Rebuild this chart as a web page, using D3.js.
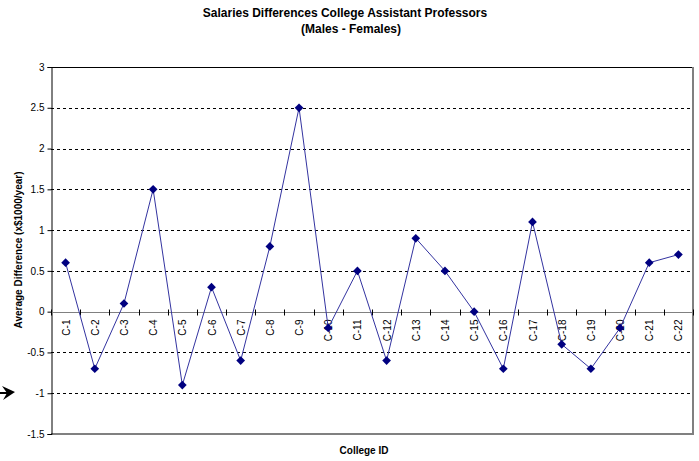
<!DOCTYPE html>
<html>
<head>
<meta charset="utf-8">
<script src="https://cdn.jsdelivr.net/npm/d3@7"></script>
<style>
  body { margin: 0; background: #fff; }
  text { font-family: Arial, "Liberation Sans", sans-serif; }
</style>
</head>
<body>
<div id="wrapper"></div>
<script>
// data
const colleges = ["C-1","C-2","C-3","C-4","C-5","C-6","C-7","C-8","C-9","C-10","C-11",
                  "C-12","C-13","C-14","C-15","C-16","C-17","C-18","C-19","C-20","C-21","C-22"]
const differences = [0.6, -0.7, 0.1, 1.5, -0.9, 0.3, -0.6, 0.8, 2.5, -0.2, 0.5,
                     -0.6, 0.9, 0.5, 0, -0.7, 1.1, -0.4, -0.7, -0.2, 0.6, 0.7]
const yTicks = [-1.5, -1, -0.5, 0, 0.5, 1, 1.5, 2, 2.5, 3]

const dataset = colleges.map((c, i) => ({college: c, value: differences[i]}))

// dimensions
let dimensions = {
    width: 699,
    height: 461,
    margin: { top: 67, right: 6, bottom: 27, left: 51 },
}
dimensions.boundedWidth = dimensions.width - dimensions.margin.left - dimensions.margin.right
dimensions.boundedHeight = dimensions.height - dimensions.margin.top - dimensions.margin.bottom

const wrapper = d3.select("#wrapper")
    .append("svg")
    .attr("width", dimensions.width)
    .attr("height", dimensions.height)

const bounds = wrapper.append("g")
    .attr("transform", `translate(${dimensions.margin.left},${dimensions.margin.top})`)

// scales
const xScale = d3.scaleBand()
    .domain(colleges)
    .range([0, dimensions.boundedWidth])

const yScale = d3.scaleLinear()
    .domain([-1.5, 3])
    .range([dimensions.boundedHeight, 0])

// gridlines
bounds.append("g")
    .selectAll("line")
    .data(yTicks.filter(d => d !== 3 && d !== -1.5 && d !== 0))
    .join("line")
    .attr("x1", 0)
    .attr("x2", dimensions.boundedWidth)
    .attr("y1", d => Math.round(yScale(d)) + 0.5)
    .attr("y2", d => Math.round(yScale(d)) + 0.5)
    .attr("stroke", "#000")
    .attr("stroke-dasharray", "3,3")

// plot frame: black top/left, gray right/bottom
const W = dimensions.boundedWidth, H = dimensions.boundedHeight
bounds.append("line").attr("x1", 0).attr("x2", W).attr("y1", 0.5).attr("y2", 0.5).attr("stroke", "#000")
bounds.append("line").attr("x1", W).attr("x2", W).attr("y1", 0).attr("y2", H).attr("stroke", "#808080").attr("stroke-width", 2)
bounds.append("line").attr("x1", 0).attr("x2", W + 1).attr("y1", H).attr("y2", H).attr("stroke", "#808080").attr("stroke-width", 2)

// y axis
const yAxisGenerator = d3.axisLeft(yScale)
    .tickValues(yTicks)
    .tickSize(4)
    .tickPadding(3)
    .tickFormat(d => d)

const yAxis = bounds.append("g")
    .attr("transform", "translate(0.5,0)")
    .call(yAxisGenerator)
yAxis.select(".domain").attr("stroke", "#000")
yAxis.selectAll("text").style("font-size", "10px").attr("fill", "#000")

// category axis at zero
const zeroY = Math.round(yScale(0)) + 0.5
const catAxis = bounds.append("g")
catAxis.append("line")
    .attr("x1", 0).attr("x2", W)
    .attr("y1", zeroY).attr("y2", zeroY)
    .attr("stroke", "#808080")
catAxis.selectAll(".tick")
    .data(d3.range(colleges.length + 1))
    .join("line")
    .attr("x1", i => Math.round(i * xScale.step()) + 0.5)
    .attr("x2", i => Math.round(i * xScale.step()) + 0.5)
    .attr("y1", zeroY - 3)
    .attr("y2", zeroY + 3)
    .attr("stroke", "#000")
catAxis.selectAll("text")
    .data(colleges)
    .join("text")
    .attr("transform", d => `translate(${xScale(d) + xScale.bandwidth() / 2 + 4},${zeroY + 7}) rotate(-90)`)
    .attr("text-anchor", "end")
    .style("font-size", "10px")
    .text(d => d)

// line + markers
const lineGenerator = d3.line()
    .x(d => xScale(d.college) + xScale.bandwidth() / 2)
    .y(d => yScale(d.value))

bounds.append("path")
    .datum(dataset)
    .attr("d", lineGenerator)
    .attr("fill", "none")
    .attr("stroke", "#3333a0")
    .attr("stroke-width", 1)

bounds.selectAll(".marker")
    .data(dataset)
    .join("path")
    .attr("class", "marker")
    .attr("d", d3.symbol().type(d3.symbolSquare).size(38))
    .attr("transform", d => `translate(${xScale(d.college) + xScale.bandwidth() / 2},${yScale(d.value)}) rotate(45)`)
    .attr("fill", "#000080")

// titles
wrapper.append("text")
    .attr("x", 345).attr("y", 17)
    .attr("text-anchor", "middle")
    .style("font-size", "12px").attr("font-weight", "bold")
    .text("Salaries Differences College Assistant Professors")
wrapper.append("text")
    .attr("x", 351).attr("y", 33)
    .attr("text-anchor", "middle")
    .style("font-size", "12px").attr("font-weight", "bold")
    .text("(Males - Females)")

wrapper.append("text")
    .attr("transform", "translate(22,250) rotate(-90)")
    .attr("text-anchor", "middle")
    .style("font-size", "10px").attr("font-weight", "bold")
    .text("Average Difference (x$1000/year)")

wrapper.append("text")
    .attr("x", 364).attr("y", 454)
    .attr("text-anchor", "middle")
    .style("font-size", "10px").attr("font-weight", "bold")
    .text("College ID")

// arrow at the left edge
wrapper.append("path")
    .attr("d", "M2,386 L15,392 L3,400 L7,393 Z")
    .attr("fill", "#000")
wrapper.append("line")
    .attr("x1", 0).attr("x2", 9)
    .attr("y1", 393).attr("y2", 393)
    .attr("stroke", "#000")
    .attr("stroke-width", 2)
</script>
</body>
</html>
